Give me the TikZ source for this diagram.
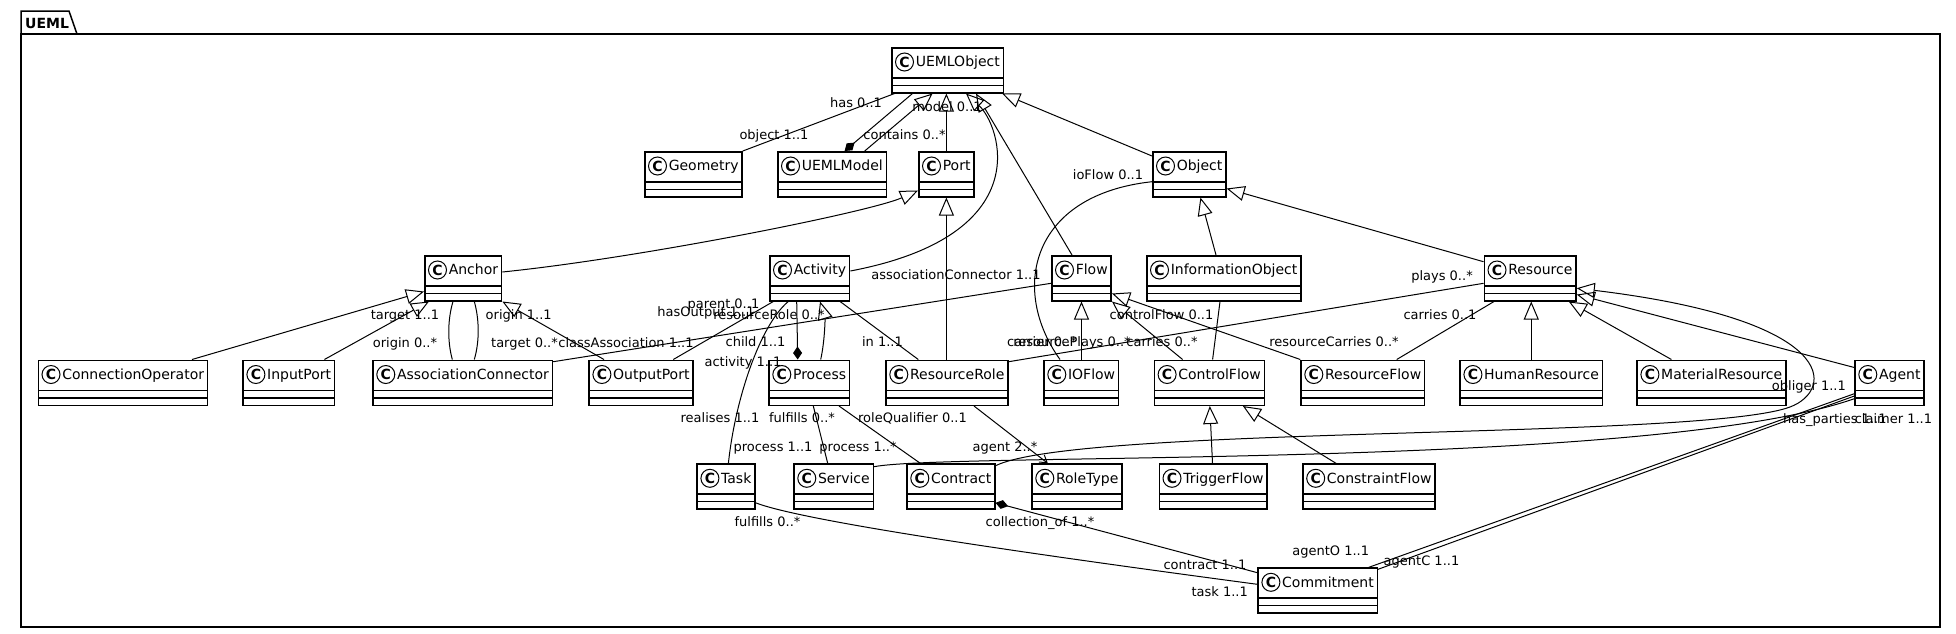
\documentclass[tikz,border=0pt]{standalone}
\usepackage{fontspec}
\setmainfont{DejaVu Sans}
\usepackage{tikz}
\usetikzlibrary{arrows.meta}

\newcommand{\clsfont}{\fontsize{14}{16}\selectfont}
\newcommand{\lblfont}{\fontsize{13}{15}\selectfont}

\begin{document}
\begin{tikzpicture}[
    x=1pt, y=-1pt,
    cls/.style={draw, line width=1.5pt, fill=white, anchor=north west,
                inner xsep=3.5pt, inner ysep=0pt, text height=19pt, text depth=26pt,
                font=\clsfont, execute at begin node={\hspace{20.5pt}},
                path picture={
                  \draw[line width=1.5pt] ([yshift=-30pt]path picture bounding box.north west)
                      -- ([yshift=-30pt]path picture bounding box.north east);
                  \draw[line width=1.5pt] ([yshift=-37.5pt]path picture bounding box.north west)
                      -- ([yshift=-37.5pt]path picture bounding box.north east);
                }},
    cicon/.style={line width=1pt, fill=white},
    lbl/.style={font=\lblfont, inner sep=0pt, text height=9.5pt, text depth=2.5pt},
    assoc/.style={line width=1pt},
    inh/.style={line width=1pt, -{Triangle[open, length=18pt, width=15pt]}},
    comp/.style={line width=1pt, {Diamond[length=13pt, width=9pt]}-},
    dir/.style={line width=1pt, -{Straight Barb[length=7pt, width=9pt]}}
]
\useasboundingbox (0,0) rectangle (1956,633);

% Package frame
\draw[line width=1.5pt] (21,34) rectangle (1940,627);
\draw[line width=1.5pt] (21,34) -- (21,11) -- (69,11) -- (77,34);
\node[font=\clsfont\bfseries, anchor=base west, inner sep=0pt] (pkg) at (25,28) {UEML};

% Classes
\node[cls] (uemlobj) at (891,47) {UEMLObject};
\node[cls] (geometry) at (644,151) {Geometry};
\node[cls] (uemlmodel) at (777,151) {UEMLModel};
\node[cls] (port) at (918,151) {Port};
\node[cls] (object) at (1152,151) {Object};
\node[cls] (anchor) at (424,255) {Anchor};
\node[cls] (activity) at (769,255) {Activity};
\node[cls] (flow) at (1051,255) {Flow};
\node[cls] (infoobj) at (1146,255) {InformationObject};
\node[cls] (resource) at (1483.5,255) {Resource};
\node[cls] (connop) at (37.5,359.5) {ConnectionOperator};
\node[cls] (inport) at (242.4,359.5) {InputPort};
\node[cls] (assocconn) at (372.3,359.5) {AssociationConnector};
\node[cls] (outport) at (588.4,359.5) {OutputPort};
\node[cls] (process) at (768.3,359.5) {Process};
\node[cls] (resrole) at (885.3,359.5) {ResourceRole};
\node[cls] (ioflow) at (1043.3,359.5) {IOFlow};
\node[cls] (ctrlflow) at (1153.6,359.5) {ControlFlow};
\node[cls] (resflow) at (1300.3,359.5) {ResourceFlow};
\node[cls] (humanres) at (1459.4,359.5) {HumanResource};
\node[cls] (matres) at (1636.4,359.5) {MaterialResource};
\node[cls] (agent) at (1854.3,359.5) {Agent};
\node[cls] (task) at (696.4,463.3) {Task};
\node[cls] (service) at (793.3,463.3) {Service};
\node[cls] (contract) at (906.3,463.3) {Contract};
\node[cls] (roletype) at (1031.3,463.3) {RoleType};
\node[cls] (trigflow) at (1158.5,463.3) {TriggerFlow};
\node[cls] (constrflow) at (1302.2,463.3) {ConstraintFlow};
\node[cls] (commitment) at (1257.4,567.3) {Commitment};

% Class icons
\foreach \c in {uemlobj, geometry, uemlmodel, port, object, anchor, activity, flow,
                infoobj, resource, connop, inport, assocconn, outport, process, resrole,
                ioflow, ctrlflow, resflow, humanres, matres, agent, task, service,
                contract, roletype, trigflow, constrflow, commitment}
    \draw[cicon] ([shift={(13.5,15)}]\c.north west) circle (9pt)
        node[font=\fontsize{14}{14}\selectfont\bfseries] {C};

% Top level
\draw[assoc] (geometry.north east) -- ([shift={(3.6,0)}]uemlobj.south west)
    node[lbl] at (856,104) {has 0..1}
    node[lbl] at (774,136) {object 1..1};
\draw[comp] ([shift={(67.6,0)}]uemlmodel.north west) -- ([shift={(21.5,0)}]uemlobj.south west)
    node[lbl] at (947,108) {model 0..1}
    node[lbl] at (904.5,136) {contains 0..*};
\draw[inh] ([shift={(87.7,0)}]uemlmodel.north west) -- ([shift={(41.6,0)}]uemlobj.south west);
\draw[inh] (port.north) -- (port.north |- uemlobj.south);
\draw[inh] ([shift={(0,16)}]activity.north east) .. controls (1040,235) and (1000,125) .. ([shift={(75,0)}]uemlobj.south west);
\draw[inh] ([shift={(21,0)}]flow.north west) -- ([shift={(85,0)}]uemlobj.south west);
\draw[inh] ([shift={(0,5)}]object.north west) -- ([shift={(-2,0)}]uemlobj.south east);

% Ports and anchors
\draw[inh] ([shift={(0,17)}]anchor.north east) .. controls (640,258) and (870,212) .. ([shift={(0,-7)}]port.south west);
\draw[inh] (port.south |- resrole.north) -- (port.south);
\draw[inh] ([shift={(154.5,0)}]connop.north west) -- ([shift={(0,-10)}]anchor.south west);
\draw[inh] ([shift={(82,0)}]inport.north west) -- ([shift={(5,0)}]anchor.south west);
\draw[inh] ([shift={(15.6,0)}]outport.north west) -- (anchor.south east);
\draw[assoc] ([shift={(80,0)}]assocconn.north west) .. controls (447,340) and (448,318) .. ([shift={(29,0)}]anchor.south west)
    node[lbl] at (405,316) {target 1..1}
    node[lbl] at (405,344) {origin 0..*};
\draw[assoc] ([shift={(102,0)}]assocconn.north west) .. controls (480,340) and (479,318) .. ([shift={(50.3,0)}]anchor.south west)
    node[lbl] at (518.7,316) {origin 1..1}
    node[lbl] at (524.5,344) {target 0..*};
\draw[assoc] ([shift={(0,28.3)}]flow.north west) -- ([shift={(0,2.2)}]assocconn.north east)
    node[lbl] at (956,276) {associationConnector 1..1}
    node[lbl] at (626,344) {classAssociation 1..1};

% Activities
\draw[assoc] ([shift={(4.3,0)}]activity.south west) -- ([shift={(-20.5,0)}]outport.north east)
    node[lbl] at (706,312.7) {hasOutput 1..1};
\draw[comp] ([shift={(29.4,0)}]process.north west) -- ([shift={(27.7,0)}]activity.south west)
    node[lbl] at (723.5,305) {parent 0..1}
    node[lbl] at (755.5,343.3) {child 1..1};
\draw[inh] ([shift={(52.4,0)}]process.north west) .. controls (825,340) and (825,318) .. ([shift={(51,0)}]activity.south west);
\draw[assoc] ([shift={(-10.3,0)}]activity.south east) -- ([shift={(33,0)}]resrole.north west)
    node[lbl] at (769,315.7) {resourceRole 0..*}
    node[lbl] at (882.5,343.3) {in 1..1};
\draw[assoc] ([shift={(19.3,0)}]activity.south west) .. controls (760,325) and (735,400) .. ([shift={(32,0)}]task.north west)
    node[lbl] at (743,362.7) {activity 1..1}
    node[lbl] at (720,419.3) {realises 1..1};
\draw[assoc] ([shift={(45,0)}]process.south west) -- ([shift={(34.4,0)}]service.north west)
    node[lbl] at (773,447.7) {process 1..1};
\draw[assoc] ([shift={(-11.4,0)}]process.south east) -- ([shift={(14,0)}]contract.north west)
    node[lbl] at (802,419.3) {fulfills 0..*}
    node[lbl] at (858,447.7) {process 1..*};
\draw[dir] ([shift={(88.7,0)}]resrole.south west) -- ([shift={(16.5,0)}]roletype.north west)
    node[lbl] at (912.5,419.3) {roleQualifier 0..1};

% Flows and objects
\draw[inh] (flow.south |- ioflow.north) -- (flow.south);
\draw[inh] ([shift={(29,0)}]ctrlflow.north west) -- (flow.south east);
\draw[inh] (resflow.north west) -- ([shift={(0,-8)}]flow.south east);
\draw[inh] ([shift={(70,0)}]infoobj.north west) -- ([shift={(48.4,0)}]object.south west);
\draw[inh] ([shift={(0,6.7)}]resource.north west) -- ([shift={(0,-9)}]object.south east);
\draw[assoc] ([shift={(0,30.7)}]object.north west) .. controls (1030,195) and (1010,290) .. ([shift={(16.7,0)}]ioflow.north west)
    node[lbl] at (1108,176) {ioFlow 0..1}
    node[lbl] at (1042,343) {carrier 0..*};
\draw[assoc] ([shift={(74,0)}]infoobj.south west) -- ([shift={(59,0)}]ctrlflow.north west)
    node[lbl] at (1161.5,316) {controlFlow 0..1}
    node[lbl] at (1162,343) {carries 0..*};
\draw[inh] ([shift={(54,0)}]trigflow.north west) -- ([shift={(56.2,0)}]ctrlflow.south west);
\draw[inh] ([shift={(33.8,0)}]constrflow.north west) -- ([shift={(-22.3,0)}]ctrlflow.south east);

% Resources
\draw[assoc] ([shift={(0,28.3)}]resource.north west) -- ([shift={(0,2.2)}]resrole.north east)
    node[lbl] at (1442,277.3) {plays 0..*}
    node[lbl] at (1072,343) {resourcePlays 0..*};
\draw[assoc] ([shift={(10.5,0)}]resource.south west) -- ([shift={(96.4,0)}]resflow.north west)
    node[lbl] at (1440,316) {carries 0..1}
    node[lbl] at (1334,343.3) {resourceCarries 0..*};
\draw[inh] (humanres.north) -- (humanres.north |- resource.south);
\draw[inh] ([shift={(35,0)}]matres.north west) -- ([shift={(-8,0)}]resource.south east);
\draw[inh] ([shift={(0,8)}]agent.north west) -- ([shift={(0,-7)}]resource.south east);
\draw[inh] ([shift={(0,2.4)}]contract.north east) .. controls (1080,425) and (1700,440) .. (1790,407)
    .. controls (1835,390) and (1840,320) .. ([shift={(0,-13.3)}]resource.south east);
\draw[assoc] ([shift={(0,3.4)}]service.north east) .. controls (950,452) and (1650,470) .. ([shift={(0,-7.3)}]agent.south west)
    node[lbl] at (1005,447.7) {agent 2..*}
    node[lbl] at (1834.8,420) {has\_parties 1..1};

% Commitments
\draw[assoc] ([shift={(0,-7)}]task.south east) .. controls (800,520) and (1000,550) .. ([shift={(0,17)}]commitment.north west)
    node[lbl] at (767.5,523.3) {fulfills 0..*}
    node[lbl] at (1219.7,592.7) {task 1..1};
\draw[comp] ([shift={(0,-7)}]contract.south east) -- ([shift={(0,5.4)}]commitment.north west)
    node[lbl] at (1040,523.3) {collection\_of 1..*}
    node[lbl] at (1205,565.7) {contract 1..1};
\draw[assoc] ([shift={(0,-12.3)}]agent.south west) -- ([shift={(-9.2,0)}]commitment.north east)
    node[lbl] at (1808.9,386.7) {obliger 1..1}
    node[lbl] at (1330.7,551.7) {agentO 1..1};
\draw[assoc] ([shift={(0,-10)}]agent.south west) -- ([shift={(0,2)}]commitment.north east)
    node[lbl] at (1893.4,420) {claimer 1..1}
    node[lbl] at (1421.5,561.7) {agentC 1..1};

\end{tikzpicture}
\end{document}
